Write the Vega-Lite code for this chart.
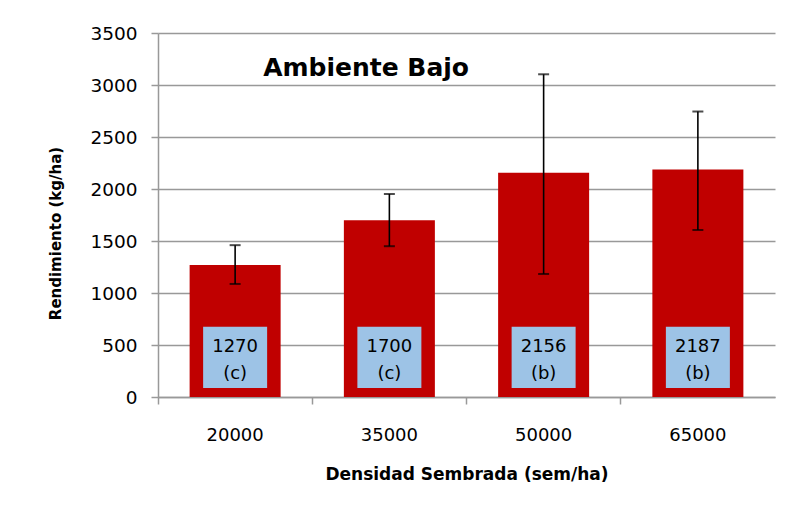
{
  "$schema": "https://vega.github.io/schema/vega-lite/v6.json",
  "autosize": {"type": "none"},
  "width": 617,
  "height": 364,
  "padding": {"left": 158, "top": 33, "right": 20, "bottom": 115},
  "background": "white",
  "config": {
    "view": {"stroke": null},
    "font": "DejaVu Sans"
  },
  "data": {
    "values": [
      {"densidad": "20000", "rendimiento": 1270, "lo": 1087, "hi": 1460, "label": "1270\n(c)"},
      {"densidad": "35000", "rendimiento": 1700, "lo": 1450, "hi": 1952, "label": "1700\n(c)"},
      {"densidad": "50000", "rendimiento": 2156, "lo": 1183, "hi": 3103, "label": "2156\n(b)"},
      {"densidad": "65000", "rendimiento": 2187, "lo": 1606, "hi": 2745, "label": "2187\n(b)"}
    ]
  },
  "encoding": {
    "x": {
      "field": "densidad",
      "type": "ordinal",
      "scale": {"paddingInner": 0.41, "paddingOuter": 0.205},
      "axis": {
        "title": "Densidad Sembrada (sem/ha)",
        "titleFont": "DejaVu Sans",
        "titleFontSize": 17,
        "titleFontWeight": "bold",
        "titleColor": "#000000",
        "titlePadding": 22,
        "labelAngle": 0,
        "labelFontSize": 18,
        "labelColor": "#000000",
        "labelPadding": 22,
        "bandPosition": -0.347,
        "tickSize": 7,
        "tickColor": "#999999",
        "domainColor": "#999999",
        "domainWidth": 1.5,
        "tickWidth": 1.5
      }
    }
  },
  "layer": [
    {
      "mark": {"type": "bar", "color": "#C00000"},
      "encoding": {
        "y": {
          "field": "rendimiento",
          "type": "quantitative",
          "title": "Rendimiento (kg/ha)",
          "scale": {"domain": [0, 3500], "nice": false},
          "axis": {
            "title": "Rendimiento (kg/ha)",
            "titleFont": "DejaVu Sans",
            "titleFontSize": 15,
            "titleFontWeight": "bold",
            "titleColor": "#000000",
            "titlePadding": 26,
            "titleY": 200,
            "values": [0, 500, 1000, 1500, 2000, 2500, 3000, 3500],
            "format": "d",
            "labelFontSize": 18.5,
            "labelColor": "#000000",
            "labelPadding": 14,
            "tickSize": 7,
            "tickColor": "#999999",
            "tickWidth": 1.5,
            "domainColor": "#999999",
            "domainWidth": 1.5,
            "grid": true,
            "gridColor": "#999999",
            "gridWidth": 1.5
          }
        }
      }
    },
    {
      "mark": {"type": "errorbar", "ticks": {"size": 11, "thickness": 2, "color": "#000000"}, "rule": {"strokeWidth": 1.6, "color": "#000000"}},
      "encoding": {
        "y": {"field": "lo", "type": "quantitative", "title": "Rendimiento (kg/ha)"},
        "y2": {"field": "hi"}
      }
    },
    {
      "mark": {"type": "bar", "color": "#9DC3E6", "size": 64},
      "encoding": {
        "y": {"datum": 87},
        "y2": {"datum": 675}
      }
    },
    {
      "mark": {"type": "text", "fontSize": 18, "lineBreak": "\n", "lineHeight": 27, "color": "#000000", "baseline": "middle", "align": "center"},
      "encoding": {
        "y": {"datum": 478},
        "text": {"field": "label"}
      }
    },
    {
      "data": {"values": [{"t": "Ambiente Bajo"}]},
      "mark": {"type": "text", "fontSize": 25, "fontWeight": "bold", "color": "#000000", "baseline": "middle", "align": "left", "dx": 28},
      "encoding": {
        "x": {"datum": "20000"},
        "y": {"datum": 3160},
        "text": {"field": "t"}
      }
    }
  ]
}
